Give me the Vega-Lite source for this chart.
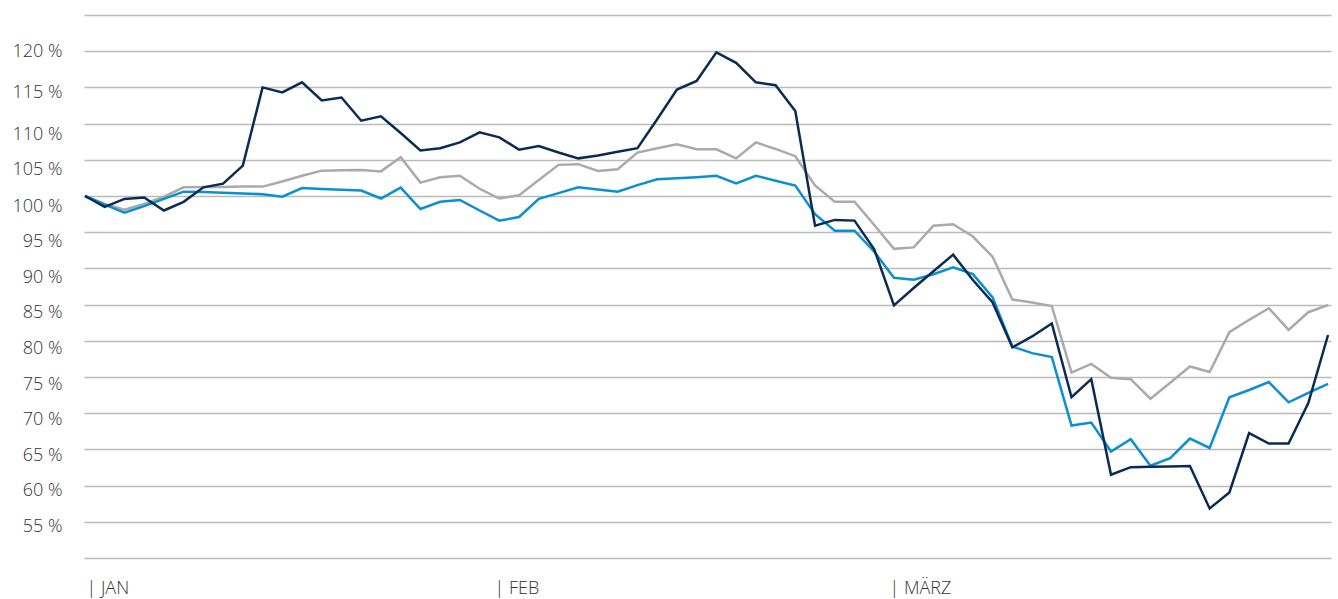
{
  "$schema": "https://vega.github.io/schema/vega-lite/v6.json",
  "autosize": {"type": "none"},
  "padding": {"left": 84, "top": 15, "right": 7, "bottom": 41},
  "width": 1247,
  "height": 543,
  "background": "white",
  "config": {
    "view": {"stroke": null},
    "font": "Open Sans"
  },
  "data": {"values": [
    {"serie": "A", "wert": [100,98.9,98.1,98.9,99.9,101.2,101.25,101.25,101.3,101.3,102.0,102.8,103.5,103.55,103.6,103.4,105.35,101.85,102.6,102.8,101.0,99.65,100.1,102.2,104.3,104.4,103.45,103.7,106.0,106.6,107.15,106.45,106.45,105.2,107.4,106.5,105.5,101.45,99.2,99.2,96.0,92.7,92.9,95.9,96.1,94.4,91.6,85.7,85.3,84.8,75.6,76.8,74.9,74.7,72.0,74.2,76.45,75.7,81.2,82.9,84.5,81.5,83.95,84.95]},
    {"serie": "B", "wert": [100,98.8,97.7,98.6,99.6,100.6,100.55,100.45,100.35,100.25,99.9,101.1,100.95,100.85,100.75,99.65,101.15,98.2,99.2,99.45,98.0,96.6,97.1,99.6,100.4,101.2,100.9,100.6,101.5,102.3,102.45,102.6,102.8,101.75,102.8,102.1,101.45,97.5,95.2,95.2,92.3,88.7,88.45,89.2,90.15,89.2,86.0,79.2,78.3,77.75,68.3,68.7,64.7,66.4,62.75,63.8,66.5,65.2,72.2,73.2,74.3,71.5,72.8,74.05]},
    {"serie": "C", "wert": [100,98.5,99.6,99.8,98.0,99.2,101.2,101.7,104.2,115.0,114.3,115.7,113.2,113.6,110.4,111.0,108.7,106.3,106.6,107.4,108.8,108.1,106.4,106.9,106.0,105.2,105.6,106.1,106.6,110.6,114.7,115.9,119.85,118.4,115.7,115.3,111.75,95.9,96.7,96.6,92.65,84.9,87.3,89.6,91.9,88.4,85.3,79.1,80.6,82.4,72.2,74.7,61.5,62.55,62.6,62.65,62.7,56.85,59.05,67.25,65.8,65.8,71.4,80.8]}
  ]},
  "transform": [
    {"flatten": ["wert"]},
    {"window": [{"op": "row_number", "as": "rn"}], "groupby": ["serie"]},
    {"calculate": "datum.rn - 1", "as": "tag"}
  ],
  "mark": {"type": "line", "strokeWidth": 2.5},
  "encoding": {
    "x": {"field": "tag", "type": "quantitative", "scale": {"domain": [-0.05, 63.15], "nice": false, "zero": false},
      "axis": {"values": [0.05, 20.73, 40.75], "labelExpr": "datum.value < 10 ? '| JAN' : datum.value < 30 ? '| FEB' : '| MÄRZ'", "title": null, "grid": false, "domain": false, "ticks": false, "labelAlign": "left", "labelBaseline": "middle", "labelPadding": 30, "labelFontSize": 18, "labelColor": "#333333", "labelFont": "Open Sans", "labelFontWeight": 300, "labelOverlap": false, "labelFlush": false}},
    "y": {"field": "wert", "type": "quantitative", "scale": {"domain": [50, 125], "nice": false, "zero": false},
      "axis": {"values": [50,55,60,65,70,75,80,85,90,95,100,105,110,115,120,125], "labelExpr": "datum.value == 50 || datum.value == 125 ? '' : datum.value + ' %'", "title": null, "domain": false, "ticks": false, "grid": true, "gridColor": "#bbbbbb", "gridWidth": 1.6, "labelPadding": 22, "labelFontSize": 18, "labelColor": "#333333", "labelFont": "Open Sans", "labelFontWeight": 300, "labelBaseline": "middle", "labelOverlap": false, "labelFlush": false,
        "labelOffset": {"expr": "datum.value == 120 ? 0 : datum.value == 115 ? 5 : datum.value == 110 ? 11 : datum.value >= 100 ? 10 : datum.value >= 90 ? 9 : datum.value >= 80 ? 8 : datum.value >= 75 ? 7.5 : datum.value >= 65 ? 6.5 : 5"}}},
    "color": {"field": "serie", "type": "nominal", "scale": {"domain": ["A", "B", "C"], "range": ["#aaaaaa", "#0a90d0", "#0b2b52"]}, "legend": null},
    "order": {"field": "tag", "type": "quantitative"}
  }
}
